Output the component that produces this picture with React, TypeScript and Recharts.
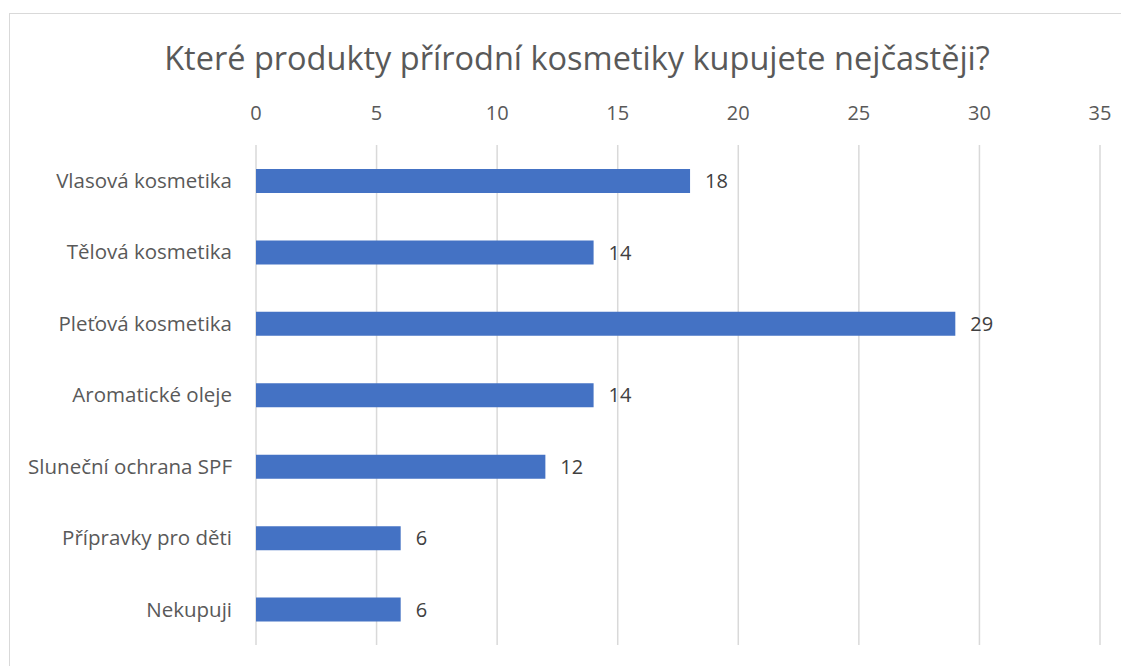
import React from 'react'
import { BarChart, Bar, XAxis, YAxis, CartesianGrid, LabelList } from 'recharts'

const categories = ['Vlasová kosmetika', 'Tělová kosmetika', 'Pleťová kosmetika', 'Aromatické oleje', 'Sluneční ochrana SPF', 'Přípravky pro děti', 'Nekupuji']
const counts = [18, 14, 29, 14, 12, 6, 6]
const xTicks = [0, 5, 10, 15, 20, 25, 30, 35]

const data = categories.map((name, i) => ({ name, count: counts[i] }))

const FONT = '"Open Sans", Lato, sans-serif'

export default function App() {
  return (
    <div style={{ position: 'relative', width: 1134, height: 700, margin: '5px 0 0 1px', border: '1px solid #d9d9d9', background: '#fff', fontFamily: FONT }}>
      <div style={{ position: 'absolute', top: 21, left: 0, width: '100%', textAlign: 'center', fontSize: 32.5, color: '#595959' }}>
        Které produkty přírodní kosmetiky kupujete nejčastěji?
      </div>
      <BarChart width={1134} height={700} data={data} layout="vertical" margin={{ top: 91, right: 44, bottom: 69, left: 0 }} barSize={24}>
        <CartesianGrid horizontal={false} stroke="#d9d9d9" strokeWidth={1.5} />
        <XAxis type="number" orientation="top" domain={[0, 35]} ticks={xTicks} height={40} axisLine={false} tickLine={false} tickMargin={19} tick={{ fill: '#595959', fontSize: 20, fontFamily: FONT }} />
        <YAxis type="category" dataKey="name" width={246} axisLine={false} tickLine={false} tickMargin={18} tick={{ fill: '#595959', fontSize: 20.5, fontFamily: FONT }} />
        <Bar dataKey="count" fill="#4472C4" isAnimationActive={false}>
          <LabelList dataKey="count" position="right" offset={15} fill="#404040" fontSize={20} fontFamily={FONT} />
        </Bar>
      </BarChart>
    </div>
  )
}
